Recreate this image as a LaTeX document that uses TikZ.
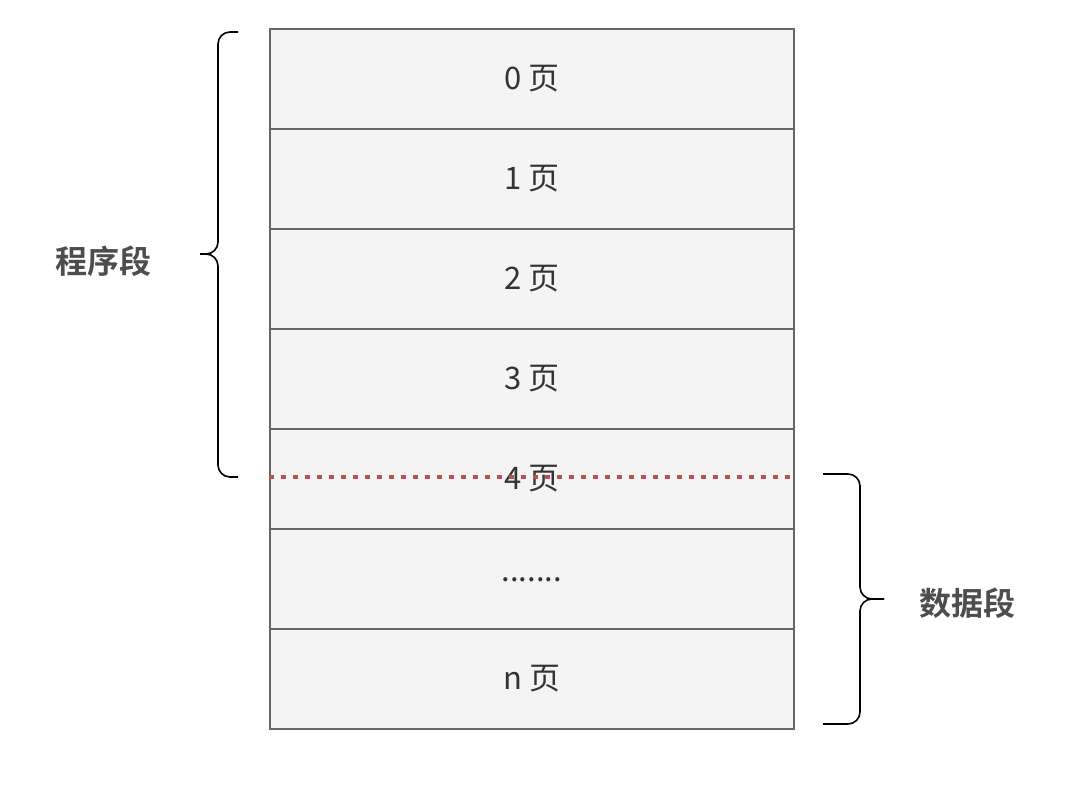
\documentclass[tikz,border=0pt]{standalone}
\usepackage{fontspec}
\setmainfont{Noto Sans CJK SC}
\newfontfamily\cjkb{Noto Sans CJK SC Bold}
\definecolor{boxfill}{HTML}{F4F4F4}
\definecolor{boxline}{HTML}{666666}
\definecolor{txt}{HTML}{333333}
\definecolor{lbl}{HTML}{4D4D4D}
\definecolor{redline}{HTML}{B85450}
\begin{document}
\begin{tikzpicture}[x=1pt,y=-1pt,
  pagebox/.style={draw=boxline,fill=boxfill,line width=1.6pt,minimum width=524pt,minimum height=100pt,inner sep=0pt,anchor=north west,
    font=\fontsize{31}{31}\selectfont,text=txt},
  brace/.style={draw=black,line width=1.6pt,rounded corners=12pt},
  seglabel/.style={font=\cjkb\fontsize{32}{32}\selectfont,text=lbl}]
\useasboundingbox (0,0) rectangle (1091,786);
\node[pagebox] (p0) at (269,28) {0 页};
\node[pagebox] (p1) at (269,128) {1 页};
\node[pagebox] (p2) at (269,228) {2 页};
\node[pagebox] (p3) at (269,328) {3 页};
\node[pagebox] (p4) at (269,428) {4 页};
\node[pagebox] (p5) at (269,528) {\raisebox{-6pt}{.......}};
\node[pagebox] (pn) at (269,628) {n 页};
\coordinate (dl) at (269,477);
\coordinate (dr) at (793,477);
\draw[redline,line width=4.5pt,dash pattern=on 5pt off 7pt] (dl) -- (dr);
% left brace
\coordinate (lbt) at (238,32);
\coordinate (lbb) at (238,477);
\coordinate (lbm) at (200,254);
\draw[brace] (lbt) -| (218,254) -- (lbm);
\draw[brace] (lbb) -| (218,254) -- (lbm);
% right brace
\coordinate (rbt) at (823,474);
\coordinate (rbb) at (823,724);
\coordinate (rbm) at (884,599);
\draw[brace] (rbt) -| (860,599) -- (rbm);
\draw[brace] (rbb) -| (860,599) -- (rbm);
\node[seglabel] (prog) at (103,261) {程序段};
\node[seglabel] (data) at (967,603) {数据段};
\end{tikzpicture}
\end{document}
